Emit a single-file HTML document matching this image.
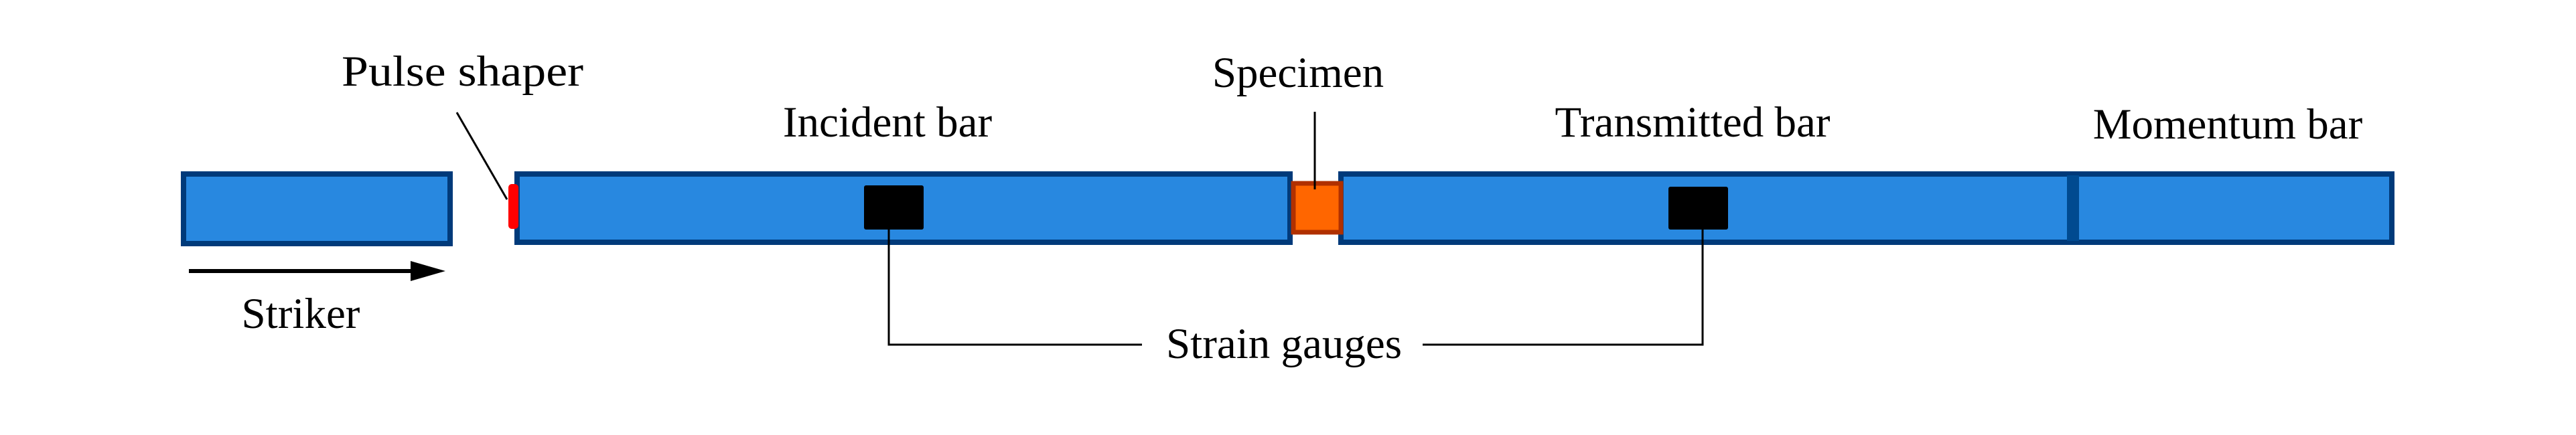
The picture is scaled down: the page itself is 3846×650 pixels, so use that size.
<!DOCTYPE html>
<html><head><meta charset="utf-8"><style>
html,body{margin:0;padding:0;background:#fff;}
svg{display:block;}
text{font-family:"Liberation Serif",serif;font-size:65px;fill:#000;}
</style></head><body>
<svg width="3846" height="650" viewBox="0 0 3846 650" xmlns="http://www.w3.org/2000/svg">
<g stroke="#003a7a" stroke-width="8" fill="#2888e0">
<rect x="274" y="260" width="398" height="104"/>
<rect x="772" y="260" width="1154" height="102"/>
<rect x="2002" y="260" width="1569" height="102"/>
</g>
<rect x="3086" y="262" width="18" height="98" fill="#004a90"/>
<rect x="1931" y="274" width="71" height="73" fill="#ff6600" stroke="#b03000" stroke-width="7"/>
<rect x="759" y="275" width="15" height="67" rx="5" fill="#ff0000"/>
<rect x="1290" y="277" width="89" height="66" rx="3" fill="#000"/>
<rect x="2491" y="279" width="89" height="64" rx="3" fill="#000"/>
<g stroke="#000" stroke-width="3" fill="none">
<line x1="682" y1="168" x2="757" y2="298"/>
<line x1="1963" y1="167" x2="1963" y2="283"/>
<polyline points="1327,343 1327,515 1705,515"/>
<polyline points="2124,515 2542,515 2542,343"/>
</g>
<line x1="282" y1="405" x2="620" y2="405" stroke="#000" stroke-width="6"/>
<polygon points="613,390 665,405 613,420" fill="#000"/>
<text x="510" y="128" textLength="361" lengthAdjust="spacingAndGlyphs">Pulse shaper</text>
<text x="1325" y="204" text-anchor="middle">Incident bar</text>
<text x="1938" y="130" text-anchor="middle">Specimen</text>
<text x="2527" y="204" text-anchor="middle">Transmitted bar</text>
<text x="3326" y="207" text-anchor="middle">Momentum bar</text>
<text x="449" y="490" text-anchor="middle">Striker</text>
<text x="1917" y="535" text-anchor="middle">Strain gauges</text>
</svg>
</body></html>
